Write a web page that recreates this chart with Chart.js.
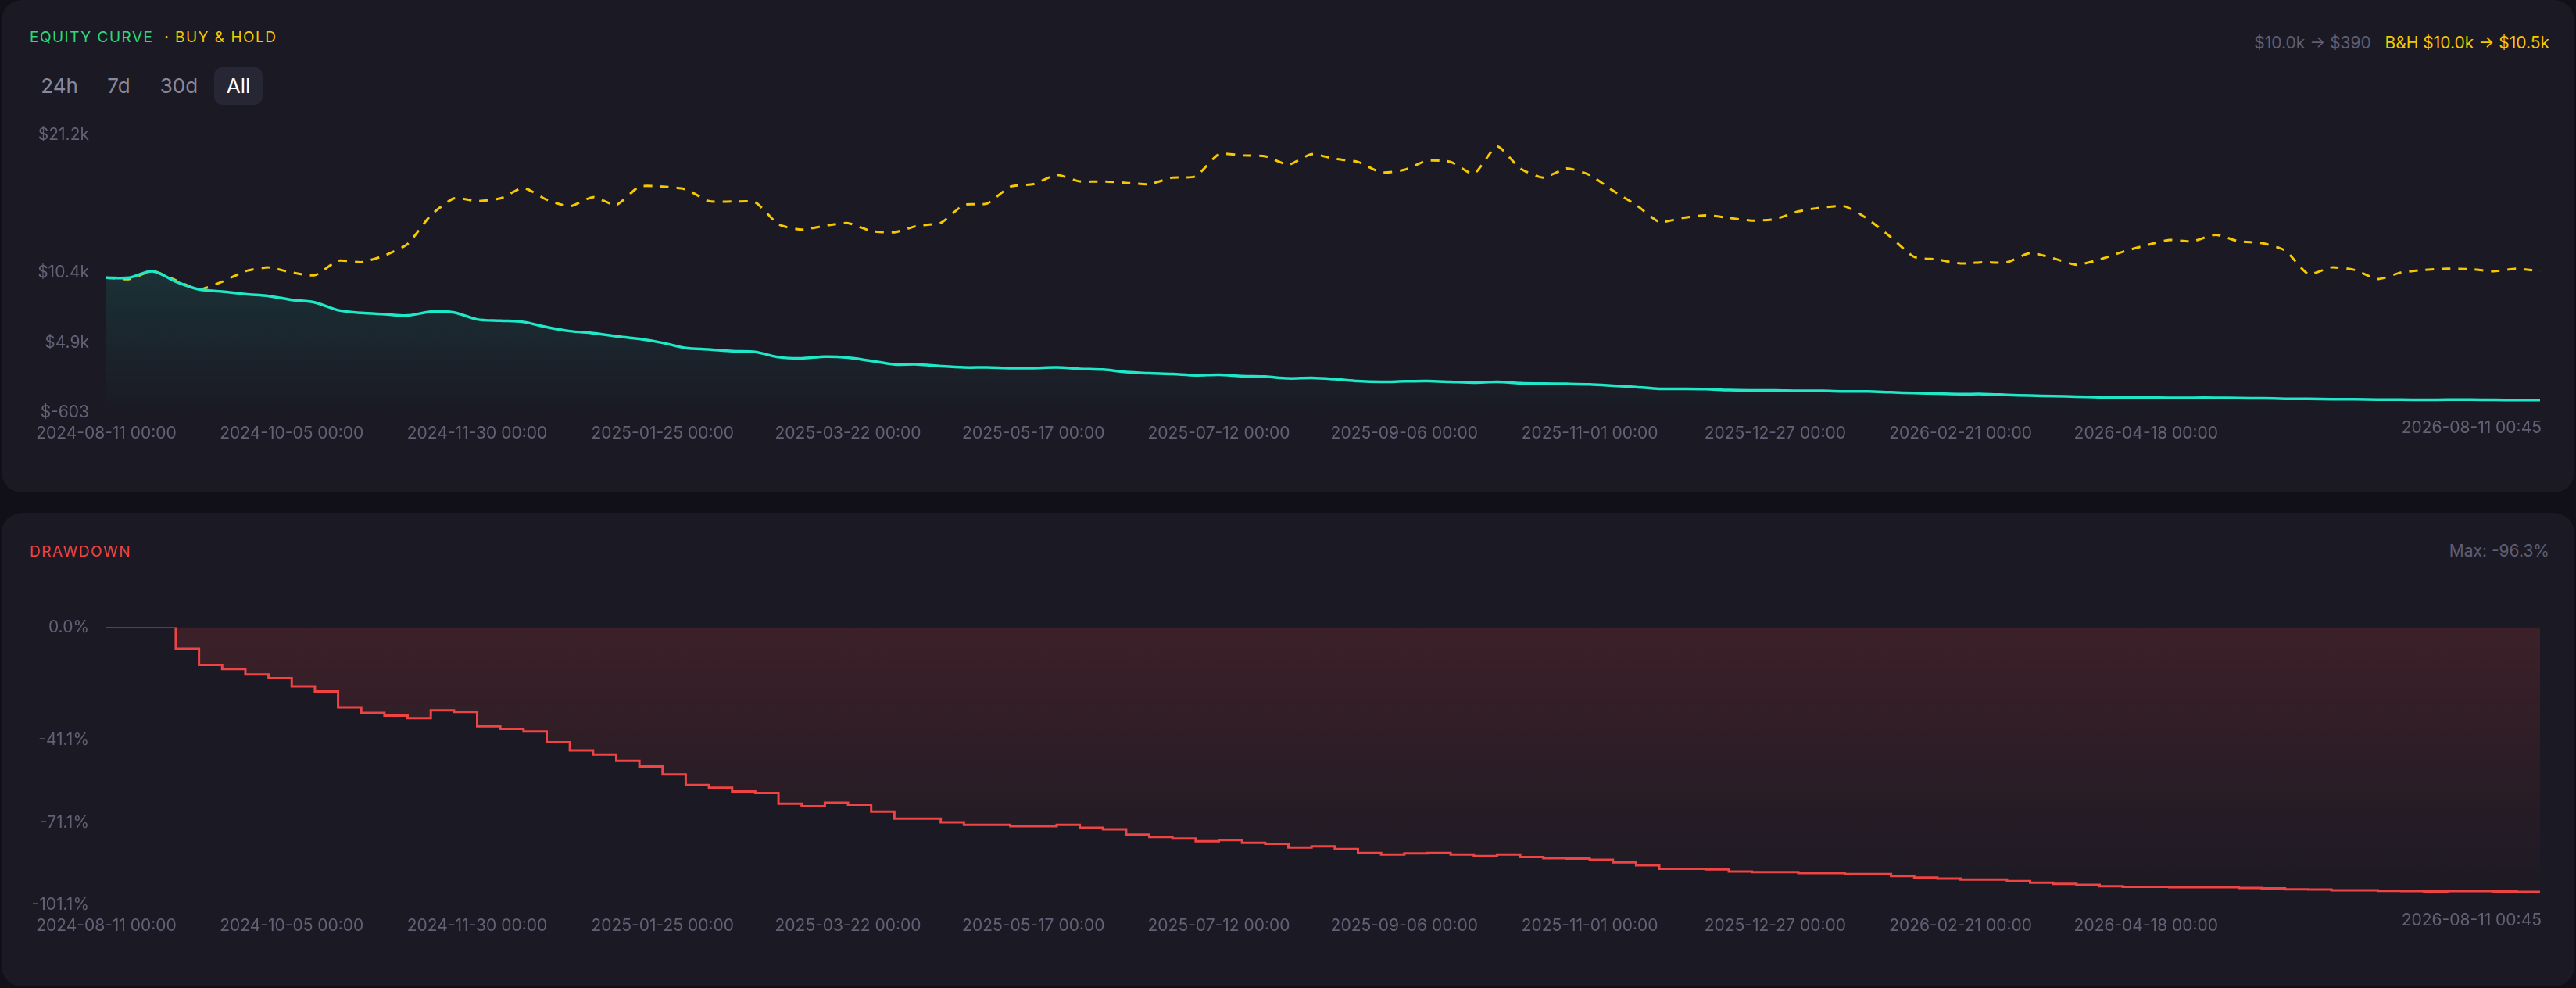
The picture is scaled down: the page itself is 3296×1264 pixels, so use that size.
<!DOCTYPE html>
<html>
<head>
<meta charset="utf-8">
<script src="https://cdn.jsdelivr.net/npm/chart.js@4.4.1/dist/chart.umd.min.js"></script>
<style>
  html, body { margin: 0; padding: 0; background: #111018; width: 3296px; height: 1264px; overflow: hidden; font-family: Inter, "Noto Sans", sans-serif; }
  .card { position: absolute; left: 2px; width: 3292px; background: #1b1a24; border-radius: 26px; }
  #top { top: 0; height: 630px; }
  #bottom { top: 656px; height: 606px; }
  .title { position: absolute; left: 36px; font-size: 19px; letter-spacing: 1.5px; }
  .right { position: absolute; right: 32px; font-size: 21px; color: #5f5e72; }
  .btn { position: absolute; top: 86px; height: 48px; line-height: 48px; font-size: 26px; color: #8a899c; text-align: center; border-radius: 10px; }
  .btn.on { background: #272634; color: #fff; }
  canvas { position: absolute; left: 0; }
</style>
</head>
<body>
<div class="card" id="top">
  <div class="title" style="top:36px"><span style="color:#2fd87a">EQUITY CURVE</span> <span style="color:#f5c800">&nbsp;· BUY &amp; HOLD</span></div>
  <div class="right" style="top:42px">$10.0k → $390 &nbsp;&nbsp;<span style="color:#f5c800">B&amp;H $10.0k → $10.5k</span></div>
  <div class="btn" style="left:50px;width:48px">24h</div>
  <div class="btn" style="left:128px;width:44px">7d</div>
  <div class="btn" style="left:200px;width:54px">30d</div>
  <div class="btn on" style="left:272px;width:62px">All</div>
</div>
<div class="card" id="bottom">
  <div class="title" style="top:38px;color:#ef4444">DRAWDOWN</div>
  <div class="right" style="top:36px">Max: -96.3%</div>
</div>
<canvas id="eq" style="top:146px;width:3296px;height:422px"></canvas>
<canvas id="dd" style="top:776px;width:3296px;height:422px"></canvas>
<script>
// weekly points from 2024-08-11, last one is 2026-08-11 00:45
const equity = [10000, 10000, 10500, 9680, 9070, 8910, 8700, 8560, 8250, 8050,
  7440, 7230, 7130, 7030, 7330, 7270, 6720, 6620, 6520, 6110,
  5800, 5640, 5400, 5190, 4880, 4480, 4370, 4230, 4170, 3760,
  3660, 3800, 3720, 3460, 3190, 3190, 3050, 2950, 2950, 2900,
  2900, 2950, 2840, 2780, 2580, 2490, 2430, 2330, 2370, 2270,
  2230, 2090, 2130, 2030, 1880, 1820, 1860, 1880, 1820, 1760,
  1820, 1720, 1680, 1660, 1620, 1520, 1410, 1270, 1270, 1250,
  1170, 1150, 1150, 1110, 1110, 1070, 1070, 1000, 940, 900,
  860, 860, 800, 740, 700, 660, 610, 590, 590, 570,
  570, 570, 540, 530, 490, 480, 450, 450, 430, 420,
  410, 420, 420, 410, 390, 390];
const buyHold = [10000, 9890, 10500, 9790, 9070, 9680, 10500, 10800, 10400, 10190,
  11320, 11210, 11730, 12640, 14890, 16220, 16010, 16220, 17030, 16120,
  15600, 16320, 15710, 17140, 17140, 16930, 16010, 15970, 15910, 14180,
  13770, 14070, 14280, 13660, 13560, 14070, 14300, 15710, 15810, 17140,
  17340, 18060, 17550, 17550, 17440, 17340, 17850, 17950, 19690, 19590,
  19520, 18870, 19690, 19320, 19080, 18260, 18460, 19180, 19080, 18160,
  20300, 18570, 17850, 18570, 18060, 16830, 15710, 14380, 14690, 14890,
  14690, 14480, 14590, 15200, 15500, 15600, 14590, 13160, 11620, 11420,
  11110, 11210, 11210, 11930, 11520, 11010, 11420, 12030, 12540, 12950,
  12850, 13360, 12850, 12710, 12130, 10290, 10800, 10600, 9890, 10400,
  10600, 10700, 10660, 10500, 10700, 10500];
const eqTicks = [-603, 4900, 10400, 21200];
const ddTicks = [0, -41.1, -71.1, -101.1];

const labels = ['2024-08-11 00:00'];
const d0 = Date.UTC(2024, 7, 10);
for (let i = 1; i < equity.length - 1; i++) {
  labels.push(new Date(d0 + i * 7 * 86400000).toISOString().slice(0, 10) + ' 00:00');
}
labels.push('2026-08-11 00:45');

let peak = 0;
const drawdown = equity.map(v => { peak = Math.max(peak, v); return (v / peak - 1) * 100; });

const tickColor = '#626176';
const tickFont = { family: 'Inter', size: 21 };
const last = labels.length - 1;

const xAxis = {
  grid: { display: false }, border: { display: false },
  ticks: {
    autoSkip: false, maxRotation: 0, color: tickColor, font: tickFont, padding: 6,
    callback: (v, i) => (i % 8 === 0 && i <= 88) ? labels[i] : null
  },
  afterFit: s => { s.height = 40; s.paddingLeft = 0; s.paddingRight = 0; }
};

// last x label drawn right-aligned at the plot's right edge
const lastLabel = {
  id: 'lastLabel',
  afterDraw(chart) {
    const c = chart.ctx, x = chart.scales.x;
    c.save();
    c.font = '21px Inter';
    c.fillStyle = tickColor;
    c.textAlign = 'right';
    c.textBaseline = 'top';
    c.fillText(labels[last], x.getPixelForValue(last) + 2, x.top + 9);
    c.restore();
  }
};

function yAxis(ticks, fmt, min, max) {
  return {
    min, max, grid: { display: false }, border: { display: false },
    afterBuildTicks: s => { s.ticks = ticks.map(v => ({ value: v })); },
    afterFit: s => { s.width = 136; },
    ticks: { color: tickColor, font: tickFont, padding: 14, callback: fmt }
  };
}

const eqCtx = document.getElementById('eq');
new Chart(eqCtx, {
  type: 'line',
  data: {
    labels,
    datasets: [{
      data: equity, borderColor: '#1ee8c8', borderWidth: 3.5, pointRadius: 0, tension: 0.3,
      fill: 'start',
      backgroundColor: ctx => {
        const a = ctx.chart.chartArea;
        if (!a) return 'transparent';
        const g = ctx.chart.ctx.createLinearGradient(0, a.top + 150, 0, a.bottom);
        g.addColorStop(0, 'rgba(30,232,200,0.13)');
        g.addColorStop(1, 'rgba(30,232,200,0.0)');
        return g;
      }
    }, {
      data: buyHold, borderColor: '#f5c800', borderWidth: 3, borderDash: [11, 10],
      pointRadius: 0, tension: 0.2, fill: false
    }]
  },
  options: {
    responsive: false, animation: false,
    layout: { padding: { top: 0, right: 46, left: 0, bottom: 0 } },
    plugins: { legend: { display: false }, tooltip: { enabled: false } },
    scales: {
      x: xAxis,
      y: yAxis(eqTicks, v => v >= 1000 ? '$' + (v / 1000).toFixed(1) + 'k' : '$' + v, -603, 21200)
    }
  },
  plugins: [lastLabel]
});

const ddCtx = document.getElementById('dd');
new Chart(ddCtx, {
  type: 'line',
  data: {
    labels,
    datasets: [{
      data: drawdown, borderColor: '#ef4444', borderWidth: 3, pointRadius: 0, stepped: true,
      fill: 'origin',
      backgroundColor: ctx => {
        const a = ctx.chart.chartArea;
        if (!a) return 'transparent';
        const g = ctx.chart.ctx.createLinearGradient(0, a.top, 0, a.bottom);
        g.addColorStop(0, 'rgba(239,68,68,0.16)');
        g.addColorStop(1, 'rgba(239,68,68,0.0)');
        return g;
      }
    }]
  },
  options: {
    responsive: false, animation: false,
    layout: { padding: { top: 0, right: 46, left: 0, bottom: 0 } },
    plugins: { legend: { display: false }, tooltip: { enabled: false } },
    scales: {
      x: xAxis,
      y: yAxis(ddTicks, v => v.toFixed(1) + '%', -101.1, 0)
    }
  },
  plugins: [lastLabel]
});
</script>
</body>
</html>
